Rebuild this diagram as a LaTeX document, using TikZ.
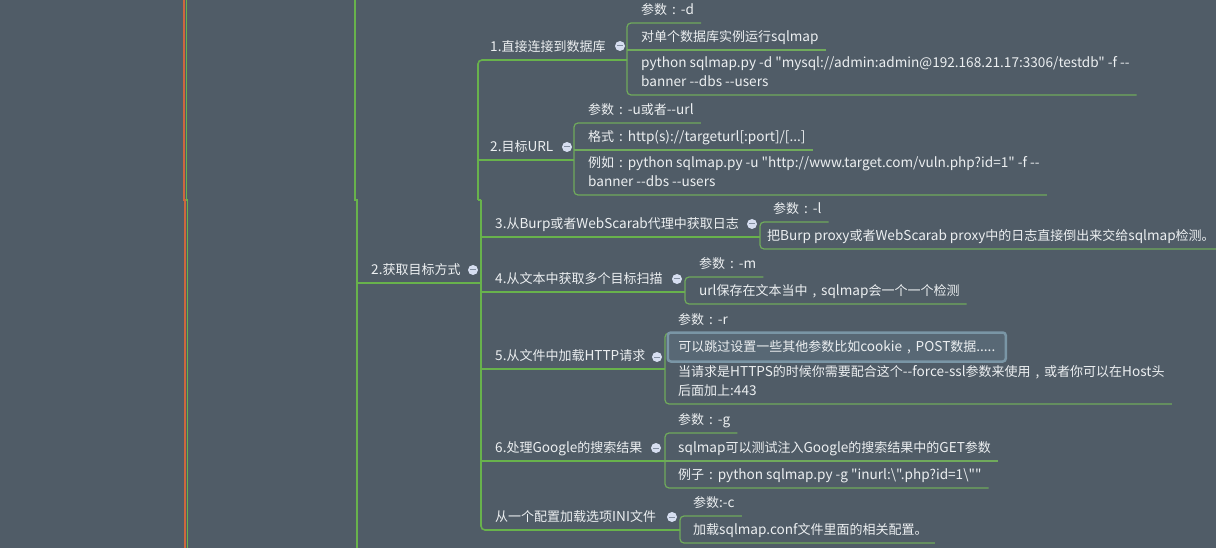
\documentclass[tikz,border=0pt]{standalone}
\usepackage{fontspec}
\newfontfamily\cjk{Noto Sans CJK SC}
\definecolor{bg}{RGB}{80,92,103}
\definecolor{fg}{RGB}{236,239,241}
\definecolor{grn}{RGB}{104,178,76}
\definecolor{lgrn}{RGB}{112,170,92}
\definecolor{redl}{RGB}{205,104,62}
\definecolor{cbfill}{RGB}{214,222,240}
\definecolor{cbminus}{RGB}{130,142,160}
\definecolor{hlb}{RGB}{122,150,166}
\definecolor{hlf}{RGB}{88,104,117}
\newcommand\dst{\rule[-4pt]{0pt}{1pt}}
\newcommand\fcol{\makebox[1em][c]{:}}
\newcommand\fcom{\makebox[1em][c]{,}}
\newcommand\cjksz{\fontsize{13}{19}\selectfont}
\newcommand\latsz{\fontsize{13.6}{19}\selectfont}
\XeTeXinterchartokenstate=1
\newXeTeXintercharclass\CJKcls
\makeatletter
\count@="3000 \loop\ifnum\count@<"3040 \XeTeXcharclass\count@=\CJKcls \advance\count@ by 1 \repeat
\count@="4E00 \loop\ifnum\count@<"A000 \XeTeXcharclass\count@=\CJKcls \advance\count@ by 1 \repeat
\count@="FF00 \loop\ifnum\count@<"FFF0 \XeTeXcharclass\count@=\CJKcls \advance\count@ by 1 \repeat
\makeatother
\XeTeXinterchartoks 0 \CJKcls = {\cjksz}
\XeTeXinterchartoks 4095 \CJKcls = {\cjksz}
\XeTeXinterchartoks \CJKcls 0 = {\latsz}
\XeTeXinterchartoks \CJKcls 4095 = {\latsz}
\begin{document}
\begin{tikzpicture}[x=1pt,y=-1pt,
  br/.style={draw=grn, line width=1.6pt, rounded corners=4pt},
  lf/.style={draw=lgrn, line width=1.2pt, rounded corners=4pt},
  txt/.style={anchor=south west, inner xsep=7pt, inner ysep=4.5pt, align=left,
    text=fg, font=\cjk\latsz, execute at end node={\dst}},
  cb/.style={circle, fill=cbfill, minimum size=10pt, inner sep=0pt,
    path picture={\draw[cbminus, line width=1pt]
      ([xshift=-2.6pt]path picture bounding box.center) --
      ([xshift=2.6pt]path picture bounding box.center);}},
  hl/.style={anchor=west, draw=hlb, fill=hlf, line width=2.5pt, rounded corners=3pt,
    inner xsep=10.5pt, minimum height=29pt, align=left,
    text=fg, font=\cjk\latsz}
]
\fill[bg] (0,0) rectangle (1216,548);
\useasboundingbox (0,0) rectangle (1216,548);

% far-left lines (branches of off-picture nodes)
\coordinate (ra) at (184,0); \coordinate (rb) at (184,200); \coordinate (rc) at (185,200); \coordinate (rd) at (185,548);
\coordinate (ga) at (186.5,0); \coordinate (gb) at (186.5,200); \coordinate (gc) at (187.5,200); \coordinate (gd) at (187.5,548);
\coordinate (ma) at (355,0); \coordinate (mb) at (355,200); \coordinate (mc) at (357,200); \coordinate (md) at (357,548);
\draw[redl, line width=1.1pt] (ra) -- (rb) -- (rc) -- (rd);
\draw[grn, line width=1.5pt] (ga) -- (gb) -- (gc) -- (gd);
\draw[grn, line width=1.6pt] (ma) -- (mb) -- (mc) -- (md);

% root
\node[txt] (r) at (364,283) {2.获取目标方式};
\node[cb] (kr) at (473,270) {};

% trunk x coordinates
\coordinate (T1) at (478,0);
\coordinate (T2) at (481,0);
\coordinate (J1) at (478,200);
\coordinate (J2) at (481,200);
\coordinate (t1) at (627,0);
\coordinate (t2) at (574,0);
\coordinate (t3) at (760,0);
\coordinate (t4) at (685,0);
\coordinate (t5) at (665,0);
\coordinate (t6) at (665,0);
\coordinate (t7) at (680,0);

% children
\node[txt] (c1) at (483,60) {1.直接连接到数据库};
\node[cb] (k1) at (620,46) {};
\node[txt] (c2) at (483,160) {2.目标URL};
\node[cb] (k2) at (567,147) {};
\node[txt] (c3) at (488,237) {3.从Burp或者WebScarab代理中获取日志};
\node[cb] (k3) at (752,224) {};
\node[txt] (c4) at (488,292) {4.从文本中获取多个目标扫描};
\node[cb] (k4) at (677,279) {};
\node[txt] (c5) at (488,369) {5.从文件中加载HTTP请求};
\node[cb] (k5) at (657,357) {};
\node[txt] (c6) at (488,461) {6.处理Google的搜索结果};
\node[cb] (k6) at (656,448) {};
\node[txt] (c7) at (488,530) {从一个配置加载选项INI文件};
\node[cb] (k7) at (672,517) {};

% leaves
\node[txt] (l11) at (634,23) {参数\fcol-d};
\node[txt] (l12) at (634,50) {对单个数据库实例运行sqlmap};
\node[txt] (l13) at (634,95) {python sqlmap.py -d "mysql://admin:admin@192.168.21.17:3306/testdb" -f --\\banner --dbs --users};
\node[txt] (l21) at (581,123) {参数\fcol-u或者--url};
\node[txt] (l22) at (581,150) {格式\fcol http(s)://targeturl[:port]/[...]};
\node[txt] (l23) at (581,195) {例如\fcol python sqlmap.py -u "http://www.target.com/vuln.php?id=1" -f --\\banner --dbs --users};
\node[txt] (l31) at (766,222) {参数\fcol-l};
\node[txt, inner xsep=2pt] (l32) at (765,249) {把Burp proxy或者WebScarab proxy中的日志直接倒出来交给sqlmap检测。};
\node[txt] (l41) at (692,277) {参数\fcol-m};
\node[txt] (l42) at (692,304) {url保存在文本当中\fcom sqlmap会一个一个检测};
\node[txt] (l51) at (671,333) {参数\fcol-r};
\node[txt] (l53) at (671,404) {当请求是HTTPS的时候你需要配合这个--force-ssl参数来使用\fcom 或者你可以在Host头\\后面加上:443};
\node[txt] (l61) at (671,433) {参数\fcol-g};
\node[txt] (l62) at (671,461) {sqlmap可以测试注入Google的搜索结果中的GET参数};
\node[txt] (l63) at (671,488) {例子\fcol python sqlmap.py -g "inurl:\textbackslash".php?id=1\textbackslash""};
\node[txt] (l71) at (686,516) {参数:-c};
\node[txt] (l72) at (686,543) {加载sqlmap.conf文件里面的相关配置。};

% root underline
\draw[br] (mc |- r.south) -- (T2 |- r.south);

% main trunk and child underlines
\draw[br] (t1 |- c1.south) -- (T1 |- c1.south) -- (J1);
\draw[br] (T1 |- c2.south) -- (t2 |- c2.south);
\draw[grn, line width=1.6pt] (J1) -- (J2);
\draw[br] (J2) -- (T2 |- c7.south) -- (t7 |- c7.south);
\draw[br] (T2 |- c3.south) -- (t3 |- c3.south);
\draw[br] (T2 |- c4.south) -- (t4 |- c4.south);
\draw[br] (T2 |- c5.south) -- (t5 |- c5.south);
\draw[br] (T2 |- c6.south) -- (t6 |- c6.south);

% leaf trunks
\draw[lf] (l11.south east) -- (t1 |- l11.south) -- (t1 |- l13.south) -- (l13.south east);
\draw[lf] (t1 |- l12.south) -- (l12.south east);
\draw[lf] (l21.south east) -- (t2 |- l21.south) -- (t2 |- l23.south) -- (l23.south east);
\draw[lf] (t2 |- l22.south) -- (l22.south east);
\draw[lf] (l31.south east) -- (t3 |- l31.south) -- (t3 |- l32.south) -- (1216,249);
\draw[lf] (l41.south east) -- (t4 |- l41.south) -- (t4 |- l42.south) -- (l42.south east);
\draw[lf] (l51.south east) -- (t5 |- l51.south) -- (t5 |- l53.south) -- (l53.south east);
\draw[lf] (l61.south east) -- (t6 |- l61.south) -- (t6 |- l63.south) -- (l63.south east);
\draw[lf] (t6 |- l62.south) -- (l62.south east);
\draw[lf] (l71.south east) -- (t7 |- l71.south) -- (t7 |- l72.south) -- (l72.south east);

% highlighted (selected) node
\node[hl] (l52) at (666.5,347) {可以跳过设置一些其他参数比如cookie\fcom POST数据.....};
\end{tikzpicture}
\end{document}
